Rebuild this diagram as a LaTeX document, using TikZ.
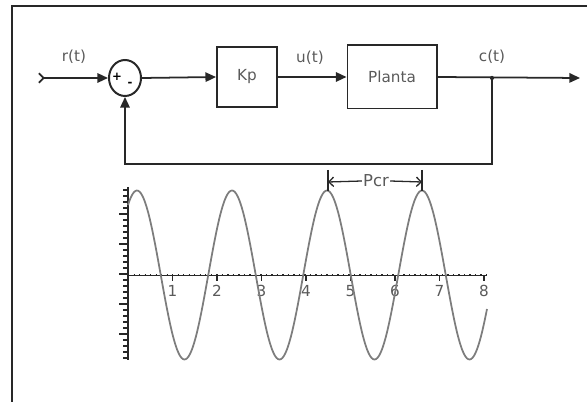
\documentclass[tikz,border=0pt]{standalone}
\usepackage{fontspec}
\setmainfont{DejaVu Sans}
\usetikzlibrary{shapes,arrows.meta,positioning}
\definecolor{linegray}{RGB}{40,40,40}
\definecolor{textgray}{RGB}{90,90,90}
\definecolor{wavegray}{RGB}{125,125,125}

\begin{document}
\begin{tikzpicture}[x=0.03cm, y=-0.03cm, every node/.style={font=\fontsize{13}{15}\selectfont, text=textgray},
  blockbox/.style={draw=linegray, line width=1.7pt, rectangle, inner sep=0pt},
  sigline/.style={draw=linegray, line width=1.5pt},
  sigarrow/.style={sigline, -{Triangle[length=9pt,width=8pt]}}]
\useasboundingbox (0,0) rectangle (587,402);
\draw[linegray, line width=1.3pt] (12,402) -- (12,6) -- (587,6);
% block diagram
\node[blockbox, ellipse, minimum width=0.96cm, minimum height=1.08cm] (sum) at (125,78) {};
\node[text=black, font=\fontsize{10}{10}\selectfont\bfseries] (plus) at (117,77) {+};
\node[text=black, font=\fontsize{10}{10}\selectfont\bfseries] (minus) at (130,84) {-};
\node[blockbox, minimum width=1.8cm, minimum height=1.8cm] (kp) at (247,77) {Kp};
\node[blockbox, minimum width=2.67cm, minimum height=1.89cm] (plant) at (392,77) {Planta};
\coordinate (in) at (38,78);
\coordinate (branch) at (492,78);
\coordinate (out) at (580,78);
\coordinate (fb) at (492,164);
\node (rt) at (74,57) {r(t)};
\node (ut) at (310,58) {u(t)};
\node (ct) at (492,57) {c(t)};
\draw[sigline, arrows={Straight Barb[reversed,length=4pt,width=8pt]-Triangle[length=9pt,width=8pt]}] (in) -- (sum.west);
\draw[sigarrow] (sum.east) -- (kp.west);
\draw[sigarrow] (kp.east) -- (plant.west);
\draw[sigarrow] (plant.east) -- (out);
\draw[sigarrow] (branch) -- (fb) -| (sum.south);
\fill[linegray] (branch) circle (1.8pt);
% oscillation plot
\coordinate (org) at (128,275);
\coordinate (ytop) at (128,187);
\coordinate (ybot) at (128,360);
\coordinate (xend) at (487,275);
\draw[linegray, line width=1.2pt] (ytop) -- (ybot);
\foreach \y [count=\i] in {190,196,...,358}
  \draw[linegray, line width=0.9pt] (128,\y) -- ({128-(mod(\i,5)==0 ? 9 : 5)},\y);
\draw[linegray, line width=0.5pt] (org) -- (xend);
\draw[linegray, line width=1.2pt, dash pattern=on 1.2pt off 3.5pt] (org) -- (xend);
\foreach \k in {1,...,8} {
  \draw[linegray, line width=0.9pt] ({128+44.5*\k},275) -- ({128+44.5*\k},281);
  \node (tick\k) at ({128+44.5*\k},291) {\k};
}
\draw[wavegray, line width=1.5pt, domain=128:487, samples=250, smooth] plot (\x, {275-84.5*cos(3.78947*(\x-137))});
% period mark
\coordinate (pa) at (328,182);
\coordinate (pb) at (422,182);
\draw[linegray, line width=1.1pt] (328,170) -- (328,191);
\draw[linegray, line width=1.1pt] (422,170) -- (422,191);
\node[font=\fontsize{14}{16}\selectfont, fill=white, inner sep=1pt] (pcr) at (376,181) {Pcr};
\draw[linegray, line width=1.1pt, -{Straight Barb[length=4pt,width=8pt]}] (pcr.west) -- (pa);
\draw[linegray, line width=1.1pt, -{Straight Barb[length=4pt,width=8pt]}] (pcr.east) -- (pb);
\end{tikzpicture}
\end{document}
